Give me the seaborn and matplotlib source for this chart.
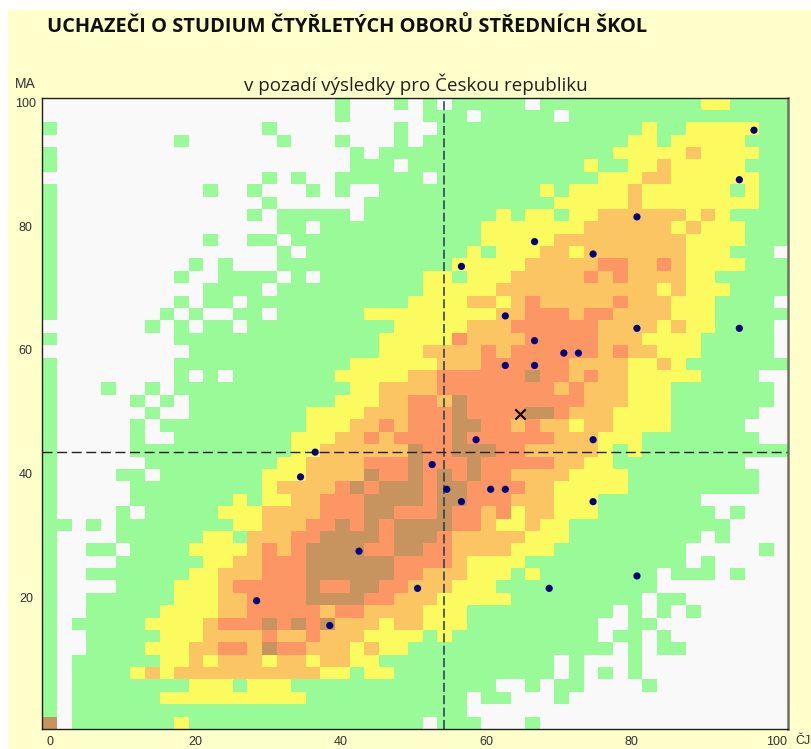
import matplotlib
matplotlib.use('Agg')
import matplotlib.pyplot as plt
from matplotlib.colors import ListedColormap
from matplotlib.patches import Rectangle
import numpy as np
import pandas as pd
import seaborn as sns

# Levels per cell: 0 none, 1 green, 2 yellow, 3 orange, 4 salmon, 5 brown
# One row per MA score (100 down to 0, step 2), one column per CJ score (0 to 100, step 2)
rows = [
    "0000000000 0000000000 1000101011 1110111111 1111122111 1",
    "0000000000 0000000000 1000001110 1111101111 1111111111 1",
    "1000000000 0000010000 0000100111 1111111111 1211222221 1",
    "0000000001 0000001000 1000101111 1111111111 2212222211 1",
    "1000000000 0000000000 0101111111 1111111112 2222322221 1",
    "1000000000 0000000000 0111011111 1111111211 2232222211 1",
    "0000000000 0000010100 1111110111 1111111122 2332222221 1",
    "1000000000 0100100010 1001111111 1111212222 3222222121 1",
    "1000000000 0000010000 0011111111 1111122222 3222222221 1",
    "1000000000 0000101111 1011111111 1212212233 3333232111 1",
    "1000000000 0000001101 1111111111 2222222333 3332322211 1",
    "1000000000 0100110111 1111111111 2222233333 3333222211 1",
    "1000000000 0000001011 1111111112 1222332333 3333222111 0",
    "1000000000 1010001111 1111111122 2223333344 3343222211 1",
    "1000000001 0011110101 1111112212 2233333434 3333221111 1",
    "1000000000 0111101111 1111112222 2333333333 3323222111 1",
    "1000000001 0110111111 1111122223 3234333334 3332221111 0",
    "1000000010 1001101111 1122222222 2334443443 3332221111 1",
    "0000000101 0110111111 1111222223 3344444433 3323221111 0",
    "1000000001 1111111111 1112222243 3334444433 3222211111 0",
    "0000000000 1111111111 1112223333 4344444434 3322211111 0",
    "1000000001 1111111111 1222222333 4444443333 2232111111 1",
    "1000000001 0101111111 2222233444 4445443433 2222211110 0",
    "1000100101 1111111111 1223333444 4444434333 2221111111 0",
    "1000001010 1111111111 2223344354 4444444333 2221111111 0",
    "1000000100 1111111122 2233344454 4445543332 2221111110 0",
    "1000001011 1111111122 2334344455 4434332332 2221111100 0",
    "1000001001 1111111222 3343444454 4444433322 2111111110 0",
    "1000001111 1111111223 3333354455 5443333321 2111111111 1",
    "1000000111 1111112233 3344454445 4444433221 1111111100 0",
    "1000011011 1111122233 3354454545 4433332222 1111111110 0",
    "1000001111 1111123333 4545554554 4443322222 1111111110 0",
    "1000001111 1112122334 4455554554 4433322211 1111100000 0",
    "1000010111 1122233334 4455444544 3423322211 1111110100 0",
    "1101011111 1112233344 5454555544 3223221111 1111111000 0",
    "1000011111 1221333445 5554555433 3332221111 1111101000 0",
    "1001101111 2222343455 5544554433 3322211111 1111000001 0",
    "1000011111 1223344455 5555444432 2221111111 1111010000 0",
    "1001111111 2233344455 5555443332 2212111111 1101110100 0",
    "1000011112 2234444454 4554433322 2111111111 1100000000 0",
    "1001111112 2233444455 5544333222 2211111111 1011000000 0",
    "1001111122 2233444443 4433332221 1111111110 1010100000 0",
    "1011111222 2344454545 3332332221 1111111100 1100000000 0",
    "1001111122 2333343343 3322221211 1111111101 1010000000 0",
    "1001111222 3344354433 3232211111 1111111110 1011000000 0",
    "1011111122 3233323323 3221111111 1111101000 1000000000 0",
    "1011112323 3333333332 2122111111 1111101010 1000000000 0",
    "1011111111 2221222111 1111111111 1001011000 0100000000 0",
    "1011111122 2222222211 1111111110 1100010000 0000000000 0",
    "1011111111 1111111111 1111111110 0000000000 0000000000 0",
    "5011111112 1111111111 1111110111 0001000000 0000000000 0",
]
cj_scores = list(range(0, 101, 2))
ma_scores = list(range(100, -1, -2))

# Schools (blue dots)
school_cj = [96, 94, 80, 66, 74, 56, 62, 80, 94, 66, 70, 72, 62, 66, 74, 58, 36, 52, 34, 54, 56, 60, 62, 74, 42, 50, 68, 80, 28, 38]
school_ma = [96, 88, 82, 78, 76, 74, 66, 64, 64, 62, 60, 60, 58, 58, 46, 46, 44, 42, 40, 38, 36, 38, 38, 36, 28, 22, 22, 24, 20, 16]

# Own school and the national averages
own_cj = [64]
own_ma = [50]
avg_cj = 53.9
avg_ma = 43.7

level_colors = ['#F9F9F9', '#98FB98', '#FBFB60', '#FBC563', '#FC9664', '#C79460']
cj_ticks = [0, 20, 40, 60, 80, 100]
ma_ticks = [100, 80, 60, 40, 20]
title = 'UCHAZEČI O STUDIUM ČTYŘLETÝCH OBORŮ STŘEDNÍCH ŠKOL'
subtitle = 'v pozadí výsledky pro Českou republiku'

grid = pd.DataFrame([[int(c) for c in r.replace(' ', '')] for r in rows], index=ma_scores, columns=cj_scores)

W, H = 812, 749
fig = plt.figure(figsize=(W / 100, H / 100), dpi=100, facecolor='white')
fig.patches.append(Rectangle((8 / W, 0), 1, 1 - 10 / H, transform=fig.transFigure, facecolor='#FFFFCC', edgecolor='none', zorder=-1))

ax = fig.add_axes([42.5 / W, 1 - 729 / H, 746 / W, 631.5 / H])
sns.heatmap(grid, ax=ax, cmap=ListedColormap(level_colors), vmin=-0.5, vmax=5.5, cbar=False,
            xticklabels=False, yticklabels=False)


# heatmap axes count cells, so scores are converted to cell positions
def cell_x(v):
    return np.asarray(v) / 2 + 0.5


def cell_y(v):
    return (100 - np.asarray(v)) / 2 + 0.5


# markers sit a little off the cell centres in the original
shift = 0.14

ax.axvline(cell_x(avg_cj), color='#1f3a4a', lw=1.1, dashes=(5.9, 2.2))
ax.axhline(cell_y(avg_ma), color='#202020', lw=1.0, dashes=(7.2, 3.3))
sns.scatterplot(x=cell_x(school_cj) + shift, y=cell_y(school_ma) + shift, ax=ax, color='#000080', s=27, edgecolor='none', zorder=5)
sns.scatterplot(x=cell_x(own_cj) + shift, y=cell_y(own_ma) + shift / 2, ax=ax, color='black', marker='x', s=55, linewidth=1.5, zorder=6)

for name, spine in ax.spines.items():
    spine.set_visible(True)
    spine.set_color('#202020')
    spine.set_linewidth(1.0)
ax.spines['right'].set_color('#707060')
ax.spines['right'].set_linewidth(1.8)

tick_font = {'family': 'Liberation Sans', 'fontsize': 9, 'color': '#303030'}
ax.set_xticks(cell_x(cj_ticks) * 0.994)
ax.set_xticklabels(cj_ticks, rotation=0, **tick_font)
ax.set_yticks(cell_y(ma_ticks))
ax.set_yticklabels(ma_ticks, rotation=0, va='center', ha='center', **tick_font)
ax.tick_params(axis='x', length=0, pad=5)
ax.tick_params(axis='y', length=0, pad=12)
ax.set_xlabel('')
ax.set_ylabel('')

fig.text(47 / W, 1 - 27.5 / H, title, family='Open Sans', weight='bold', fontsize=14.45, color='#101010', va='center')
fig.text(416 / W, 1 - 84 / H, subtitle, family='Open Sans', fontsize=13.5, color='#202020', ha='center', va='center')
fig.text(25 / W, 1 - 84 / H, 'MA', family='Liberation Sans', fontsize=10, color='#303030', ha='center', va='center')
fig.text(803 / W, 1 - 741 / H, 'ČJ', family='Liberation Sans', fontsize=9, color='#303030', ha='center', va='center')

plt.savefig('out.png', dpi=100)
